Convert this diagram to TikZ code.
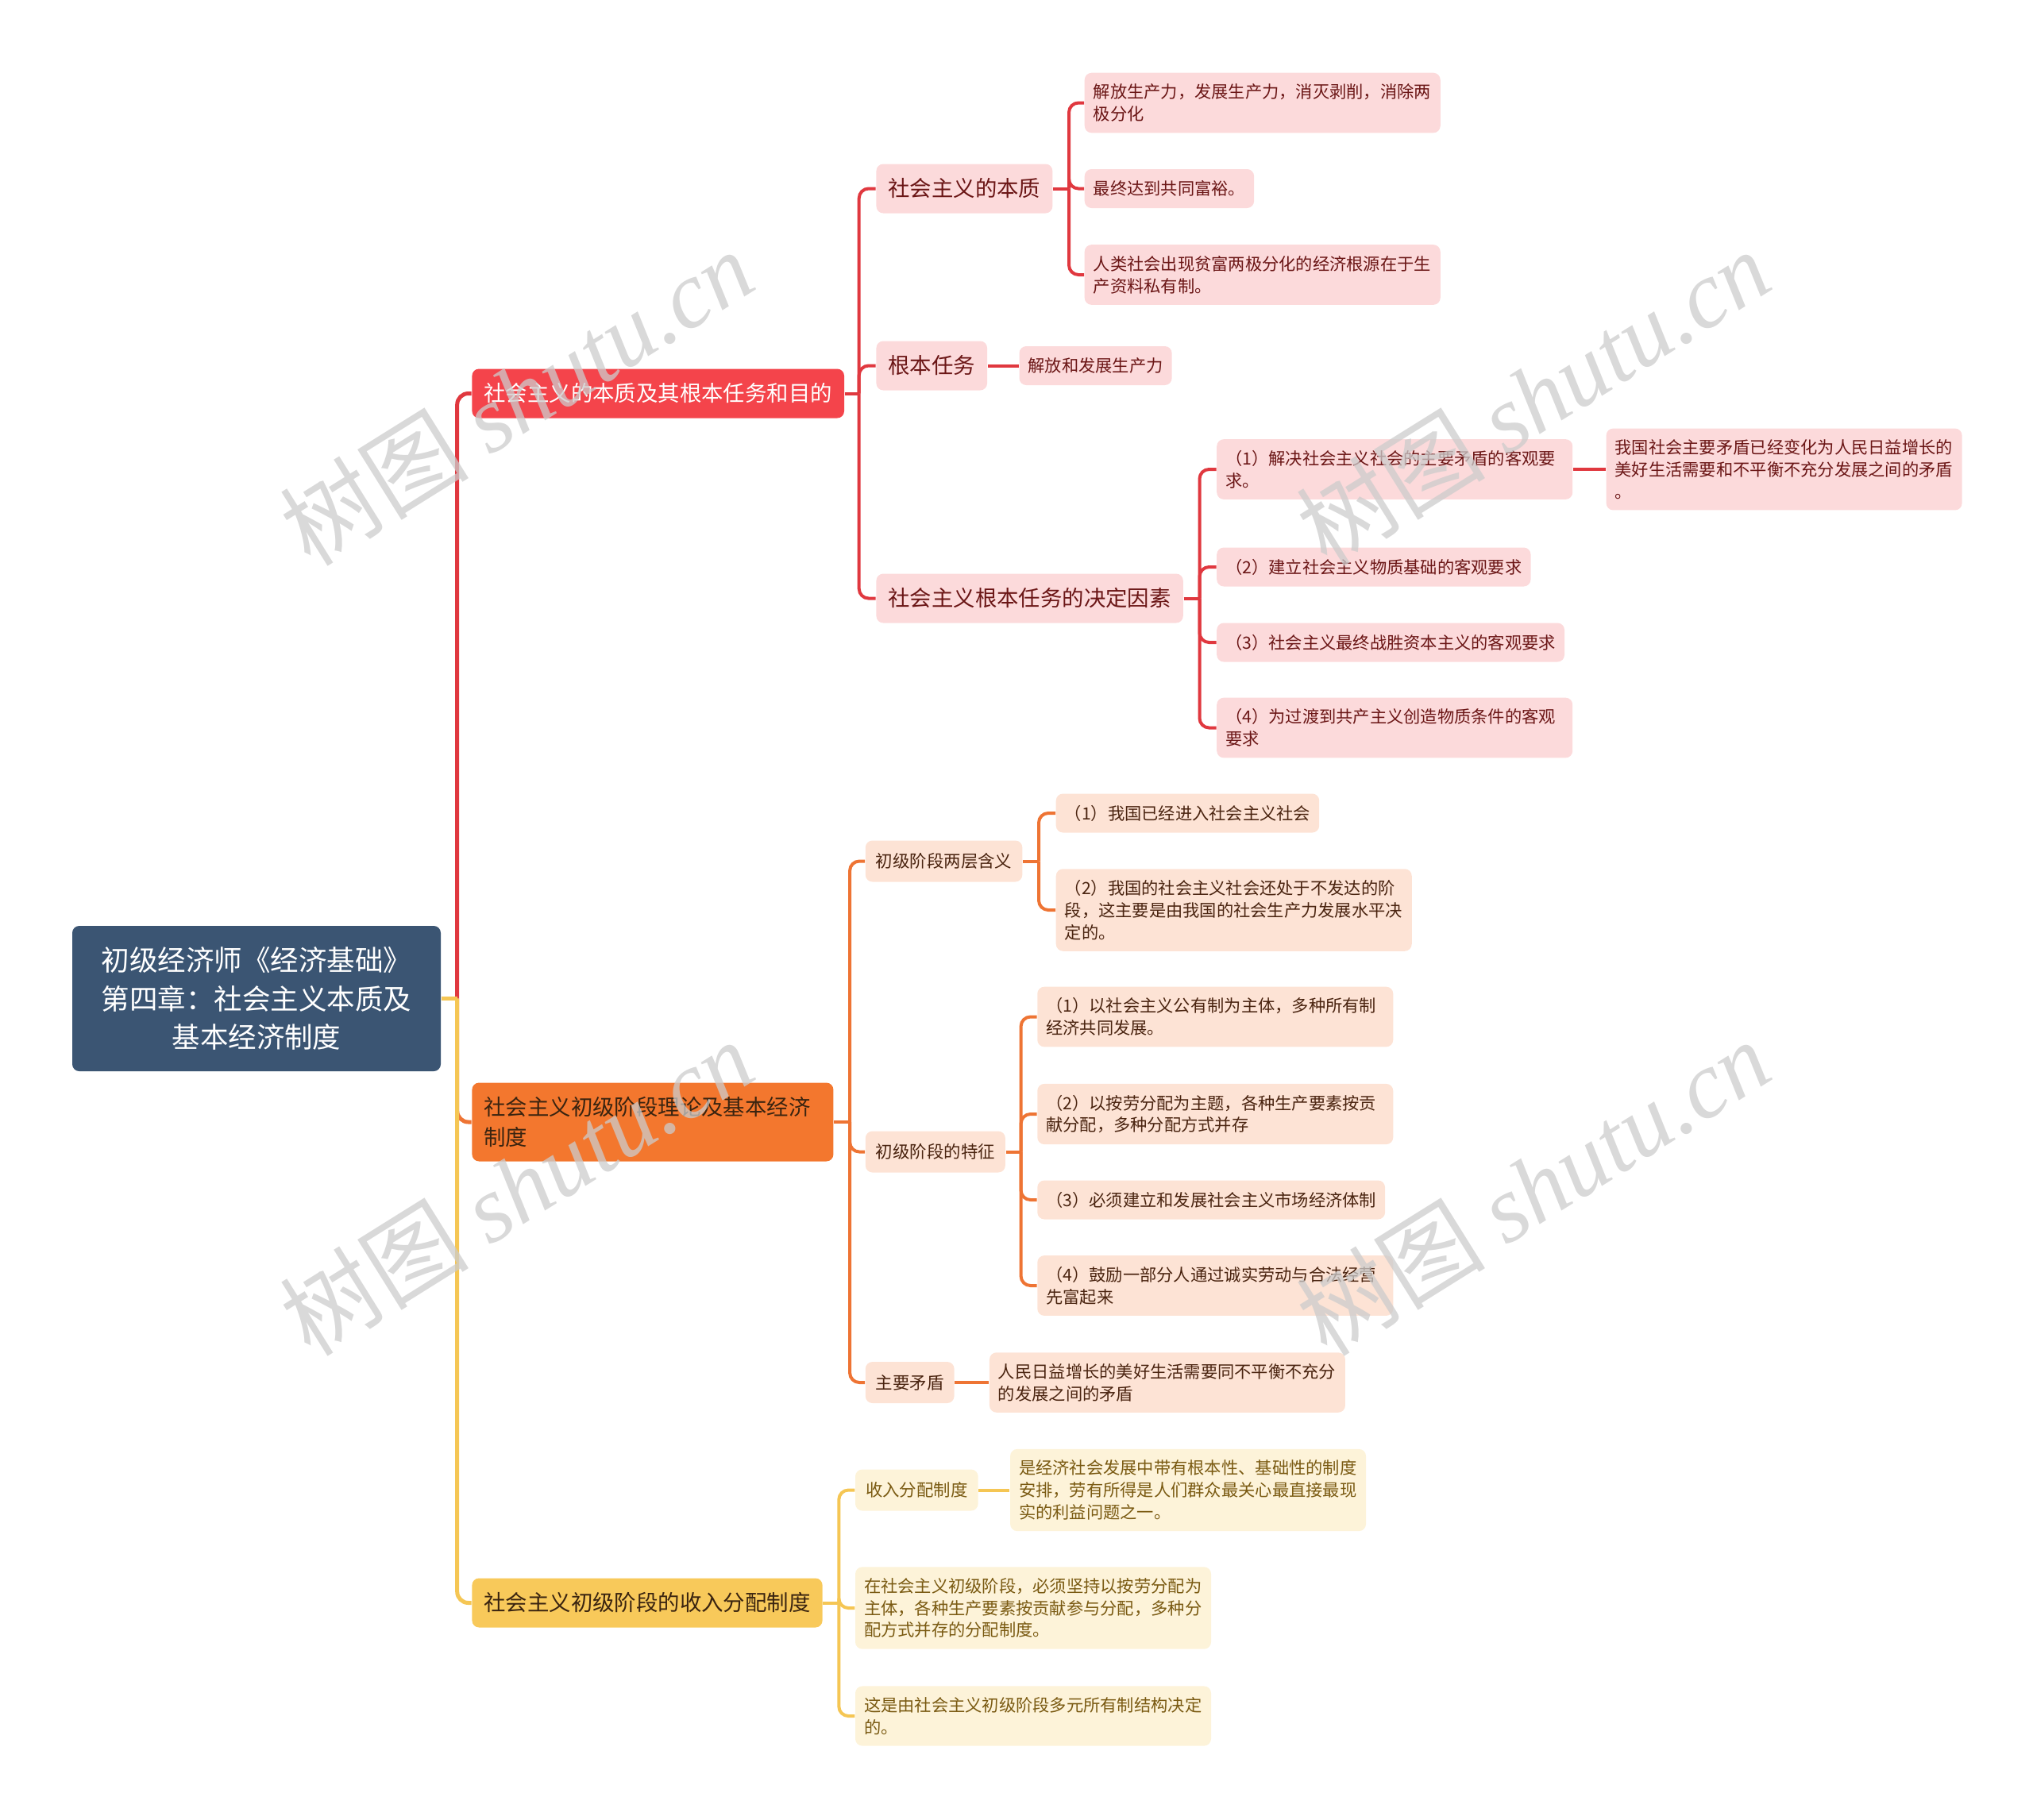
\documentclass[tikz,border=0pt]{standalone}
\usepackage{fontspec}
\setmainfont{Noto Sans CJK SC}
\newfontfamily\wmfont{Liberation Serif}
\usetikzlibrary{positioning}

\definecolor{rootblue}{HTML}{3B5573}
\definecolor{mainred}{HTML}{F4444B}
\definecolor{mainorange}{HTML}{F3772E}
\definecolor{mainyellow}{HTML}{F8C95A}
\definecolor{lightred}{HTML}{FCDADB}
\definecolor{lightorange}{HTML}{FDE3D5}
\definecolor{lightyellow}{HTML}{FDF3D9}
\definecolor{textred}{HTML}{6B1616}
\definecolor{textorange}{HTML}{4A2410}
\definecolor{textyellow}{HTML}{7A5A12}
\definecolor{textdark}{HTML}{3A2410}
\definecolor{linered}{HTML}{E0383F}
\definecolor{lineorange}{HTML}{EE7434}
\definecolor{lineyellow}{HTML}{F5C654}

\begin{document}
\begin{tikzpicture}[
    node distance=0.39cm,
    rootbox/.style={rectangle, rounded corners=2.5pt, fill=rootblue, text=white, align=center, minimum width=4.64cm, minimum height=1.83cm, font=\fontsize{10.1pt}{13.9pt}\selectfont},
    mainbox/.style={rectangle, rounded corners=2.5pt, inner xsep=0.15cm, inner ysep=0.18cm, minimum height=0.62cm, font=\fontsize{7.8pt}{10.7pt}\selectfont},
    smallbox/.style={rectangle, rounded corners=2.5pt, inner xsep=0.13cm, inner ysep=0.14cm, minimum height=0.52cm, font=\fontsize{6.1pt}{7.9pt}\selectfont},
    leaf/.style={rectangle, rounded corners=2.5pt, inner xsep=0.11cm, inner ysep=0.14cm, minimum height=0.49cm, align=left, font=\fontsize{6.05pt}{7.9pt}\selectfont},
    wide/.style={text width=4.26cm},
    redsub/.style={fill=lightred, text=textred},
    orangesub/.style={fill=lightorange, text=textorange},
    yellowsub/.style={fill=lightyellow, text=textyellow},
    link/.style={line width=0.04cm, rounded corners=0.12cm},
    trunk/.style={line width=0.05cm, rounded corners=0.14cm},
    wmark/.style={text=gray!40, opacity=0.75, rotate=32, font=\fontsize{34pt}{34pt}\selectfont}
  ]

  \useasboundingbox (0,0) rectangle (25.6,-22.91);

  % ============ ROOT ============
  \node[rootbox] (root) at (3.23,-12.575) {初级经济师《经济基础》\\第四章：社会主义本质及\\基本经济制度};

  % ============ MAIN BRANCHES ============
  \node[mainbox, fill=mainred, text=white, right=0.38cm of root, yshift=7.62cm] (ess) {社会主义的本质及其根本任务和目的};
  \node[mainbox, fill=mainorange, text=textdark, text width=4.25cm, align=left, right=0.38cm of root, yshift=-1.555cm] (stage) {社会主义初级阶段理论及基本经济\\制度};
  \node[mainbox, fill=mainyellow, text=textdark, right=0.38cm of root, yshift=-7.61cm] (dist) {社会主义初级阶段的收入分配制度};

  \coordinate[right=0.2cm of root] (rootJ);
  \draw[trunk, linered] (root) -- (rootJ);
  \draw[trunk, linered] (rootJ) |- (ess);
  \draw[trunk, lineorange] (rootJ) |- (stage);
  \draw[trunk, lineyellow] (root) -- (rootJ);
  \draw[trunk, lineyellow] (rootJ) |- (dist);

  % ============ RED BRANCH ============
  \node[mainbox, redsub, right=0.39cm of ess, yshift=2.58cm] (nat) {社会主义的本质};
  \node[mainbox, redsub, right=0.39cm of ess, yshift=0.35cm] (task) {根本任务};
  \node[mainbox, redsub, right=0.39cm of ess, yshift=-2.58cm] (fact) {社会主义根本任务的决定因素};

  \coordinate[right=0.18cm of ess] (essJ);
  \draw[link, linered] (ess) -- (essJ);
  \draw[link, linered] (essJ) |- (nat);
  \draw[link, linered] (essJ) |- (task);
  \draw[link, linered] (essJ) |- (fact);

  % Essence
  \node[leaf, redsub, wide, right=0.39cm of nat, yshift=1.08cm] (nat1) {解放生产力，发展生产力，消灭剥削，消除两\\极分化};
  \node[leaf, redsub, right=0.39cm of nat] (nat2) {最终达到共同富裕。};
  \node[leaf, redsub, wide, right=0.39cm of nat, yshift=-1.085cm] (nat3) {人类社会出现贫富两极分化的经济根源在于生\\产资料私有制。};

  \coordinate[right=0.2cm of nat] (natJ);
  \draw[link, linered] (nat) -- (natJ);
  \draw[link, linered] (natJ) |- (nat1);
  \draw[link, linered] (natJ) |- (nat2);
  \draw[link, linered] (natJ) |- (nat3);

  % Fundamental task
  \node[leaf, redsub, right=0.39cm of task] (task1) {解放和发展生产力};
  \draw[link, linered] (task) -- (task1);

  % Determining factors
  \node[leaf, redsub, wide, right=0.41cm of fact, yshift=1.625cm] (fact1) {（1）解决社会主义社会的主要矛盾的客观要\\求。};
  \node[leaf, redsub, right=0.41cm of fact, yshift=0.395cm] (fact2) {（2）建立社会主义物质基础的客观要求};
  \node[leaf, redsub, right=0.41cm of fact, yshift=-0.555cm] (fact3) {（3）社会主义最终战胜资本主义的客观要求};
  \node[leaf, redsub, wide, right=0.41cm of fact, yshift=-1.63cm] (fact4) {（4）为过渡到共产主义创造物质条件的客观\\要求};
  \node[leaf, redsub, wide, right=0.41cm of fact1] (fact1a) {我国社会主要矛盾已经变化为人民日益增长的\\美好生活需要和不平衡不充分发展之间的矛盾\\。};

  \coordinate[right=0.2cm of fact] (factJ);
  \draw[link, linered] (fact) -- (factJ);
  \draw[link, linered] (factJ) |- (fact1);
  \draw[link, linered] (factJ) |- (fact2);
  \draw[link, linered] (factJ) |- (fact3);
  \draw[link, linered] (factJ) |- (fact4);
  \draw[link, linered] (fact1) -- (fact1a);

  % ============ ORANGE BRANCH ============
  \node[smallbox, orangesub, right=0.39cm of stage, yshift=3.285cm] (mean) {初级阶段两层含义};
  \node[smallbox, orangesub, right=0.39cm of stage, yshift=-0.375cm] (feat) {初级阶段的特征};
  \node[smallbox, orangesub, right=0.39cm of stage, yshift=-3.28cm] (main) {主要矛盾};

  \coordinate[right=0.2cm of stage] (stageJ);
  \draw[link, lineorange] (stage) -- (stageJ);
  \draw[link, lineorange] (stageJ) |- (mean);
  \draw[link, lineorange] (stageJ) |- (feat);
  \draw[link, lineorange] (stageJ) |- (main);

  % Two meanings
  \node[leaf, orangesub, right=0.41cm of mean, yshift=0.605cm] (mean1) {（1）我国已经进入社会主义社会};
  \node[leaf, orangesub, wide, right=0.41cm of mean, yshift=-0.615cm] (mean2) {（2）我国的社会主义社会还处于不发达的阶\\段，这主要是由我国的社会生产力发展水平决\\定的。};

  \coordinate[right=0.2cm of mean] (meanJ);
  \draw[link, lineorange] (mean) -- (meanJ);
  \draw[link, lineorange] (meanJ) |- (mean1);
  \draw[link, lineorange] (meanJ) |- (mean2);

  % Features
  \node[leaf, orangesub, wide, right=0.39cm of feat, yshift=1.70cm] (feat1) {（1）以社会主义公有制为主体，多种所有制\\经济共同发展。};
  \node[leaf, orangesub, wide, right=0.39cm of feat, yshift=0.475cm] (feat2) {（2）以按劳分配为主题，各种生产要素按贡\\献分配，多种分配方式并存};
  \node[leaf, orangesub, right=0.39cm of feat, yshift=-0.605cm] (feat3) {（3）必须建立和发展社会主义市场经济体制};
  \node[leaf, orangesub, wide, right=0.39cm of feat, yshift=-1.685cm] (feat4) {（4）鼓励一部分人通过诚实劳动与合法经营\\先富起来};

  \coordinate[right=0.19cm of feat] (featJ);
  \draw[link, lineorange] (feat) -- (featJ);
  \draw[link, lineorange] (featJ) |- (feat1);
  \draw[link, lineorange] (featJ) |- (feat2);
  \draw[link, lineorange] (featJ) |- (feat3);
  \draw[link, lineorange] (featJ) |- (feat4);

  % Main contradiction
  \node[leaf, orangesub, wide, right=0.43cm of main] (main1) {人民日益增长的美好生活需要同不平衡不充分\\的发展之间的矛盾};
  \draw[link, lineorange] (main) -- (main1);

  % ============ YELLOW BRANCH ============
  \node[smallbox, yellowsub, right=0.40cm of dist, yshift=1.42cm] (inc) {收入分配制度};
  \node[leaf, yellowsub, wide, right=0.40cm of dist, yshift=-0.065cm] (dist2) {在社会主义初级阶段，必须坚持以按劳分配为\\主体，各种生产要素按贡献参与分配，多种分\\配方式并存的分配制度。};
  \node[leaf, yellowsub, wide, right=0.40cm of dist, yshift=-1.425cm] (dist3) {这是由社会主义初级阶段多元所有制结构决定\\的。};
  \node[leaf, yellowsub, wide, right=0.39cm of inc] (inc1) {是经济社会发展中带有根本性、基础性的制度\\安排，劳有所得是人们群众最关心最直接最现\\实的利益问题之一。};

  \coordinate[right=0.2cm of dist] (distJ);
  \draw[link, lineyellow] (dist) -- (distJ);
  \draw[link, lineyellow] (distJ) |- (inc);
  \draw[link, lineyellow] (distJ) |- (dist2);
  \draw[link, lineyellow] (distJ) |- (dist3);
  \draw[link, lineyellow] (inc) -- (inc1);

  % ============ WATERMARKS ============
  \node[wmark] (wm1) at (6.5,-5.0) {树图 {\wmfont\itshape shutu.cn}};
  \node[wmark] (wm2) at (19.3,-5.0) {树图 {\wmfont\itshape shutu.cn}};
  \node[wmark] (wm3) at (6.5,-14.95) {树图 {\wmfont\itshape shutu.cn}};
  \node[wmark] (wm4) at (19.3,-14.95) {树图 {\wmfont\itshape shutu.cn}};

\end{tikzpicture}
\end{document}
